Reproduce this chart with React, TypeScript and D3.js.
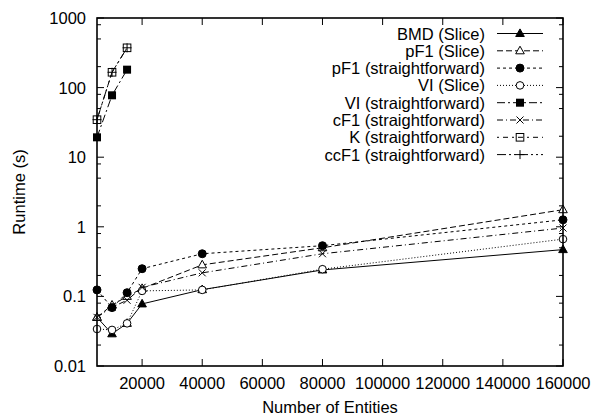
import React from "react";
import * as d3 from "d3";

const xAll = [5000, 10000, 15000, 20000, 40000, 80000, 160000];
const xSmall = [5000, 10000, 15000];

const bmdSlice = [0.05, 0.029, 0.041, 0.078, 0.125, 0.24, 0.47];
const pf1Slice = [0.05, 0.075, 0.1, 0.13, 0.284, 0.5, 1.76];
const pf1Straight = [0.124, 0.069, 0.113, 0.25, 0.41, 0.535, 1.26];
const viSlice = [0.034, 0.033, 0.041, 0.12, 0.124, 0.246, 0.665];
const viStraight = [19.3, 77.5, 181];
const cf1Straight = [0.05, 0.07, 0.088, 0.135, 0.218, 0.41, 0.96];
const kStraight = [34.6, 166, 373];
const ccf1Straight = [34.6, 166, 373];

const xTicks = [20000, 40000, 60000, 80000, 100000, 120000, 140000, 160000];
const yTicks = [0.01, 0.1, 1, 10, 100, 1000];
const yTickLabels = ["0.01", "0.1", "1", "10", "100", "1000"];
const minorMults = [2, 5, 8];

type Marker = "triFill" | "triOpen" | "circFill" | "circOpen" | "sqFill" | "sqOpen" | "x" | "plus";

const seriesNames = [
  "BMD (Slice)",
  "pF1 (Slice)",
  "pF1 (straightforward)",
  "VI (Slice)",
  "VI (straightforward)",
  "cF1 (straightforward)",
  "K (straightforward)",
  "ccF1 (straightforward)",
];

const series: { name: string; xs: number[]; ys: number[]; marker: Marker; dash: string }[] = [
  { name: seriesNames[0], xs: xAll, ys: bmdSlice, marker: "triFill", dash: "" },
  { name: seriesNames[1], xs: xAll, ys: pf1Slice, marker: "triOpen", dash: "6,3" },
  { name: seriesNames[2], xs: xAll, ys: pf1Straight, marker: "circFill", dash: "3,3" },
  { name: seriesNames[3], xs: xAll, ys: viSlice, marker: "circOpen", dash: "1,2" },
  { name: seriesNames[4], xs: xSmall, ys: viStraight, marker: "sqFill", dash: "8,3,2,3" },
  { name: seriesNames[5], xs: xAll, ys: cf1Straight, marker: "x", dash: "6,3,1,3" },
  { name: seriesNames[6], xs: xSmall, ys: kStraight, marker: "sqOpen", dash: "2,4,5,4" },
  { name: seriesNames[7], xs: xSmall, ys: ccf1Straight, marker: "plus", dash: "9,3,2,3,2,3" },
];

const W = 591;
const H = 416;
const left = 97;
const right = 563;
const top = 18;
const bottom = 366;
const FONT = "'Liberation Sans', Arial, Helvetica, sans-serif";
const FS = 16.5;

function MarkerShape({ type, x, y }: { type: Marker; x: number; y: number }) {
  const t = `translate(${x},${y})`;
  switch (type) {
    case "triFill":
    case "triOpen":
      return (
        <path
          transform={t}
          d="M0,-4.6L4.3,3L-4.3,3Z"
          fill={type === "triFill" ? "#000" : "#fff"}
          stroke="#000"
          strokeWidth={1}
        />
      );
    case "circFill":
    case "circOpen":
      return (
        <circle
          cx={x}
          cy={y}
          r={type === "circFill" ? 4 : 3.8}
          fill={type === "circFill" ? "#000" : "#fff"}
          stroke="#000"
          strokeWidth={1}
        />
      );
    case "sqFill":
      return <rect x={x - 4} y={y - 4} width={8} height={8} fill="#000" />;
    case "sqOpen":
      return <rect x={x - 3.8} y={y - 3.8} width={7.6} height={7.6} fill="none" stroke="#000" strokeWidth={1} />;
    case "x":
      return <path transform={t} d="M-3.5,-3.5L3.5,3.5M-3.5,3.5L3.5,-3.5" stroke="#000" strokeWidth={1} fill="none" />;
    case "plus":
      return <path transform={t} d="M-4.5,0L4.5,0M0,-4.5L0,4.5" stroke="#000" strokeWidth={1} fill="none" />;
  }
  return null;
}

export default function App() {
  const x = d3.scaleLinear().domain([5000, 160000]).range([left, right]);
  const y = d3.scaleLog().domain([0.01, 1000]).range([bottom, top]);
  const line = d3
    .line<[number, number]>()
    .x((d) => x(d[0]))
    .y((d) => y(d[1]));

  const minorTicks: number[] = [];
  for (let i = 0; i < yTicks.length - 1; i++) {
    for (const m of minorMults) minorTicks.push(yTicks[i] * m);
  }

  const legendX = 485;
  const legendY0 = 33.5;
  const legendDy = 17.3;

  return (
    <svg
      width={W}
      height={H}
      style={{ position: "absolute", left: 0, top: 0, background: "#fff" }}
      fontFamily={FONT}
    >
      <rect x={0} y={0} width={W} height={H} fill="#fff" />
      {xTicks.map((t) => (
        <g key={"xt" + t}>
          <line x1={x(t)} x2={x(t)} y1={bottom} y2={bottom - 7} stroke="#000" strokeWidth={1} />
          <line x1={x(t)} x2={x(t)} y1={top} y2={top + 7} stroke="#000" strokeWidth={1} />
          <text x={x(t)} y={389} textAnchor="middle" fontSize={FS} fill="#000">
            {t}
          </text>
        </g>
      ))}
      {yTicks.map((t, i) => (
        <g key={"yt" + t}>
          <line x1={left} x2={left + 7} y1={y(t)} y2={y(t)} stroke="#000" strokeWidth={1} />
          <line x1={right} x2={right - 7} y1={y(t)} y2={y(t)} stroke="#000" strokeWidth={1} />
          <text x={86} y={y(t) + 6} textAnchor="end" fontSize={FS} fill="#000">
            {yTickLabels[i]}
          </text>
        </g>
      ))}
      {minorTicks.map((t) => (
        <g key={"ym" + t}>
          <line x1={left} x2={left + 4} y1={y(t)} y2={y(t)} stroke="#000" strokeWidth={1} />
          <line x1={right} x2={right - 4} y1={y(t)} y2={y(t)} stroke="#000" strokeWidth={1} />
        </g>
      ))}
      {series.map((s) => (
        <path
          key={"l" + s.name}
          d={line(s.xs.map((v, i) => [v, s.ys[i]] as [number, number])) || ""}
          fill="none"
          stroke="#000"
          strokeWidth={1}
          strokeDasharray={s.dash || undefined}
        />
      ))}
      {series.map((s) => (
        <g key={"m" + s.name}>
          {s.xs.map((v, i) => (
            <MarkerShape key={i} type={s.marker} x={x(v)} y={y(s.ys[i])} />
          ))}
        </g>
      ))}
      <rect x={left} y={top} width={right - left} height={bottom - top} fill="none" stroke="#000" strokeWidth={1.6} />
      {series.map((s, i) => {
        const ly = legendY0 + i * legendDy;
        return (
          <g key={"lg" + s.name}>
            <text x={legendX} y={ly + 6} textAnchor="end" fontSize={FS} fill="#000">
              {s.name}
            </text>
            <line
              x1={497}
              x2={543}
              y1={ly}
              y2={ly}
              stroke="#000"
              strokeWidth={1}
              strokeDasharray={s.dash || undefined}
            />
            <MarkerShape type={s.marker} x={520} y={ly} />
          </g>
        );
      })}
      <text x={(left + right) / 2} y={413} textAnchor="middle" fontSize={FS} fill="#000">
        Number of Entities
      </text>
      <text
        transform={`translate(25,${(top + bottom) / 2}) rotate(-90)`}
        textAnchor="middle"
        fontSize={FS}
        fill="#000"
      >
        Runtime (s)
      </text>
    </svg>
  );
}
